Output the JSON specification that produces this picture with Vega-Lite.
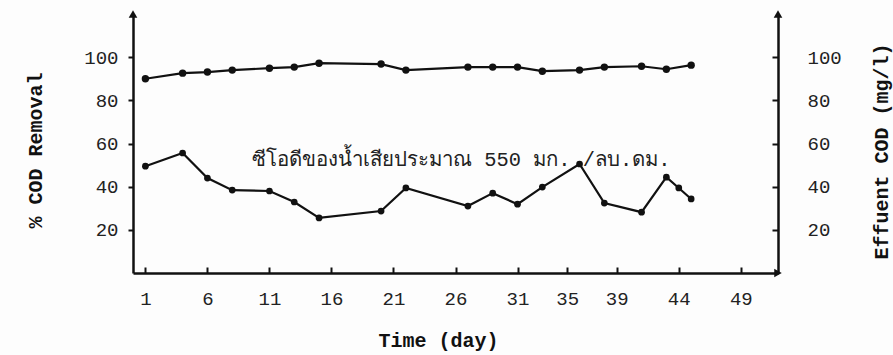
{
  "$schema": "https://vega.github.io/schema/vega-lite/v6.json",
  "autosize": {"type": "none"},
  "padding": {"left": 133, "top": 14, "right": 115, "bottom": 82},
  "width": 645,
  "height": 259,
  "background": "#fdfdfd",
  "config": {
    "view": {"stroke": null},
    "axis": {
      "grid": false,
      "domainColor": "#111",
      "domainWidth": 2.5,
      "tickColor": "#111",
      "tickWidth": 2,
      "labelFont": "Liberation Mono",
      "labelFontSize": 19,
      "labelColor": "#222",
      "titleFont": "Liberation Mono",
      "titleFontSize": 20,
      "titleFontWeight": "bold",
      "titleColor": "#111"
    }
  },
  "datasets": {
    "removal": [
      {"day": 1, "value": 90},
      {"day": 4, "value": 92.6},
      {"day": 6, "value": 93.1},
      {"day": 8, "value": 94},
      {"day": 11, "value": 94.9},
      {"day": 13, "value": 95.4},
      {"day": 15, "value": 97.2},
      {"day": 20, "value": 96.8},
      {"day": 22, "value": 94},
      {"day": 27, "value": 95.4},
      {"day": 29, "value": 95.4},
      {"day": 31, "value": 95.4},
      {"day": 33, "value": 93.5},
      {"day": 36, "value": 94},
      {"day": 38, "value": 95.4},
      {"day": 41, "value": 95.8},
      {"day": 43, "value": 94.4},
      {"day": 45, "value": 96.3}
    ],
    "effluent": [
      {"day": 1, "value": 49.5},
      {"day": 4, "value": 55.6},
      {"day": 6, "value": 44},
      {"day": 8, "value": 38.4},
      {"day": 11, "value": 38},
      {"day": 13, "value": 32.9},
      {"day": 15, "value": 25.5},
      {"day": 20, "value": 28.7},
      {"day": 22, "value": 39.4},
      {"day": 27, "value": 31},
      {"day": 29, "value": 37},
      {"day": 31, "value": 31.9},
      {"day": 33, "value": 39.8},
      {"day": 36, "value": 50.5},
      {"day": 38, "value": 32.4},
      {"day": 41, "value": 28.2},
      {"day": 43, "value": 44.4},
      {"day": 44, "value": 39.4},
      {"day": 45, "value": 34.3}
    ]
  },
  "layer": [
    {
      "data": {"name": "removal"},
      "layer": [
        {"mark": {"type": "line", "color": "#111", "strokeWidth": 2.2}},
        {"mark": {"type": "point", "filled": true, "color": "#111", "size": 55, "opacity": 1}}
      ],
      "encoding": {
        "x": {
          "field": "day", "type": "quantitative",
          "scale": {"domain": [0, 52], "nice": false, "zero": false},
          "axis": {
            "values": [1, 6, 11, 16, 21, 26, 31, 35, 39, 44, 49],
            "tickSize": -6,
            "labelPadding": 22,
            "title": "Time (day)",
            "titlePadding": 22,
            "titleX": 305
          }
        },
        "y": {
          "field": "value", "type": "quantitative",
          "scale": {"domain": [0, 120], "nice": false},
          "axis": {
            "orient": "left",
            "values": [20, 40, 60, 80, 100],
            "tickSize": 5,
            "labelPadding": 10,
            "title": "% COD Removal",
            "titlePadding": 38,
            "titleY": 136
          }
        }
      }
    },
    {
      "data": {"name": "effluent"},
      "layer": [
        {"mark": {"type": "line", "color": "#111", "strokeWidth": 2.2}},
        {"mark": {"type": "point", "filled": true, "color": "#111", "size": 45, "opacity": 1}}
      ],
      "encoding": {
        "x": {"field": "day", "type": "quantitative"},
        "y": {
          "field": "value", "type": "quantitative",
          "axis": {
            "orient": "right",
            "values": [20, 40, 60, 80, 100],
            "tickSize": -6,
            "labelPadding": 35,
            "title": "Effuent COD (mg/l)",
            "titleAngle": 270,
            "titleBaseline": "middle",
            "titlePadding": 40,
            "titleY": 137
          }
        }
      }
    },
    {
      "data": {"values": [{"day": 9.6, "value": 52.3, "label": "ซีโอดีของน้ำเสียประมาณ 550 มก. /ลบ.ดม."}]},
      "mark": {"type": "text", "align": "left", "baseline": "middle", "font": "Liberation Mono", "fontSize": 20.4, "color": "#222"},
      "encoding": {
        "x": {"field": "day", "type": "quantitative"},
        "y": {"field": "value", "type": "quantitative", "axis": null},
        "text": {"field": "label"}
      }
    },
    {
      "data": {"values": [{"day": 0, "value": 120}, {"day": 52, "value": 120}]},
      "mark": {"type": "point", "shape": "triangle-up", "filled": true, "color": "#111", "size": 75, "opacity": 1},
      "encoding": {
        "x": {"field": "day", "type": "quantitative"},
        "y": {"field": "value", "type": "quantitative", "axis": null}
      }
    },
    {
      "data": {"values": [{"day": 52, "value": 0}]},
      "mark": {"type": "point", "shape": "triangle-right", "filled": true, "color": "#111", "size": 75, "opacity": 1},
      "encoding": {
        "x": {"field": "day", "type": "quantitative"},
        "y": {"field": "value", "type": "quantitative", "axis": null}
      }
    }
  ],
  "resolve": {"axis": {"y": "independent"}}
}
